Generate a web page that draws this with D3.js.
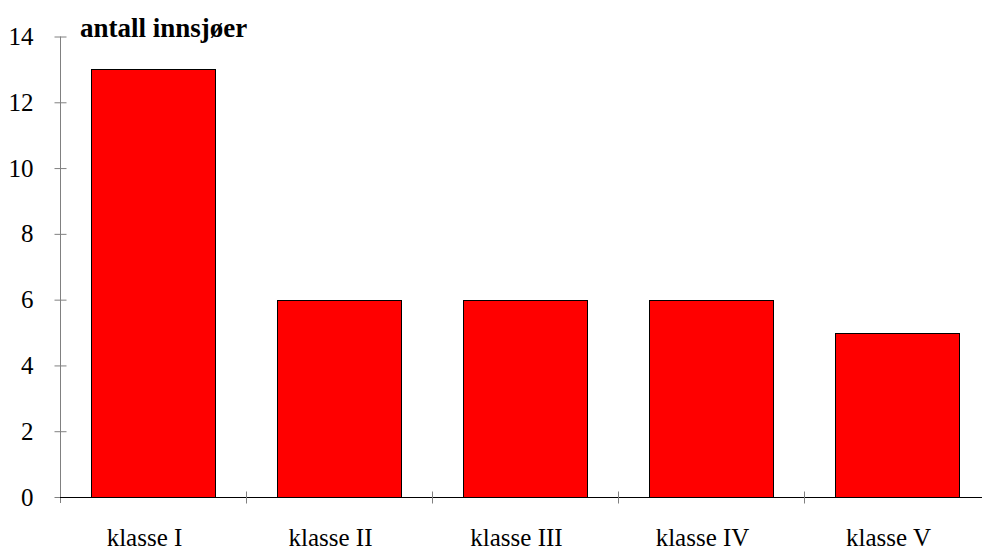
<!DOCTYPE html>
<html>
<head>
<meta charset="utf-8">
<script src="https://cdn.jsdelivr.net/npm/d3@7"></script>
<style>
  body { margin: 0; background: #fff; }
  svg { display: block; font-family: "Liberation Serif", "Times New Roman", serif; }
</style>
</head>
<body>
<script>
// DATA
const CATEGORIES = ['klasse I', 'klasse II', 'klasse III', 'klasse IV', 'klasse V'];
const VALUES = [13, 6, 6, 6, 5];
const Y_TICKS = [0, 2, 4, 6, 8, 10, 12, 14];
const Y_TITLE = 'antall innsjøer';

// CONSTANTS
const WIDTH = 982;
const HEIGHT = 550;
const LEFT = 60;
const TOP = 36.5;
const BOTTOM = 497;

const X_SCALE = d3.scaleBand()
  .domain(CATEGORIES)
  .range([LEFT, LEFT + 186 * CATEGORIES.length])
  .paddingInner(1 / 3)
  .paddingOuter(1 / 6);

const Y_SCALE = d3.scaleLinear()
  .domain([0, 14])
  .range([BOTTOM, TOP]);

const svg = d3.select('body')
  .append('svg')
  .attr('width', WIDTH)
  .attr('height', HEIGHT);

// BARS
svg.selectAll('rect.bar')
  .data(VALUES)
  .enter()
  .append('rect')
  .attr('class', 'bar')
  .attr('x', (d, i) => Math.round(X_SCALE(CATEGORIES[i])) + 0.5)
  .attr('y', (d) => Math.round(Y_SCALE(d)) + 0.5)
  .attr('width', Math.round(X_SCALE.bandwidth()))
  .attr('height', (d) => Math.round(Y_SCALE(0)) - Math.round(Y_SCALE(d)))
  .attr('fill', '#ff0000')
  .attr('stroke', '#000')
  .attr('stroke-width', 1);

// Y-AXIS
const yAxis = svg.append('g')
  .attr('transform', 'translate(' + (LEFT + 0.5) + ',0)')
  .call(d3.axisLeft(Y_SCALE).tickValues(Y_TICKS).tickSize(6).tickPadding(21));
yAxis.select('.domain').remove();
yAxis.selectAll('.tick line')
  .attr('x1', -6)
  .attr('x2', 6)
  .attr('stroke', '#808080');
yAxis.selectAll('.tick text')
  .style('font-family', '"Liberation Serif", serif')
  .style('font-size', '25px')
  .attr('fill', '#000');
yAxis.append('line')
  .attr('y1', TOP)
  .attr('y2', BOTTOM + 6)
  .attr('stroke', '#808080');

// X-AXIS
const xAxis = svg.append('g')
  .attr('transform', 'translate(0,' + (BOTTOM + 0.5) + ')');
xAxis.append('line')
  .attr('x1', LEFT)
  .attr('x2', WIDTH)
  .attr('stroke', '#000');
xAxis.selectAll('line.tick')
  .data(CATEGORIES.slice(1))
  .enter()
  .append('line')
  .attr('class', 'tick')
  .attr('x1', (d) => Math.round(X_SCALE(d) - X_SCALE.step() * X_SCALE.paddingOuter()) + 0.5)
  .attr('x2', (d) => Math.round(X_SCALE(d) - X_SCALE.step() * X_SCALE.paddingOuter()) + 0.5)
  .attr('y1', -6)
  .attr('y2', 6)
  .attr('stroke', '#808080');
xAxis.selectAll('text')
  .data(CATEGORIES)
  .enter()
  .append('text')
  .attr('x', (d) => X_SCALE(d) + X_SCALE.bandwidth() / 2 - 8.5)
  .attr('y', 48)
  .attr('text-anchor', 'middle')
  .style('font-size', '25px')
  .text((d) => d);

// TITLE
svg.append('text')
  .attr('x', 80)
  .attr('y', 37)
  .style('font-size', '27px')
  .style('font-weight', 'bold')
  .text(Y_TITLE);
</script>
</body>
</html>
